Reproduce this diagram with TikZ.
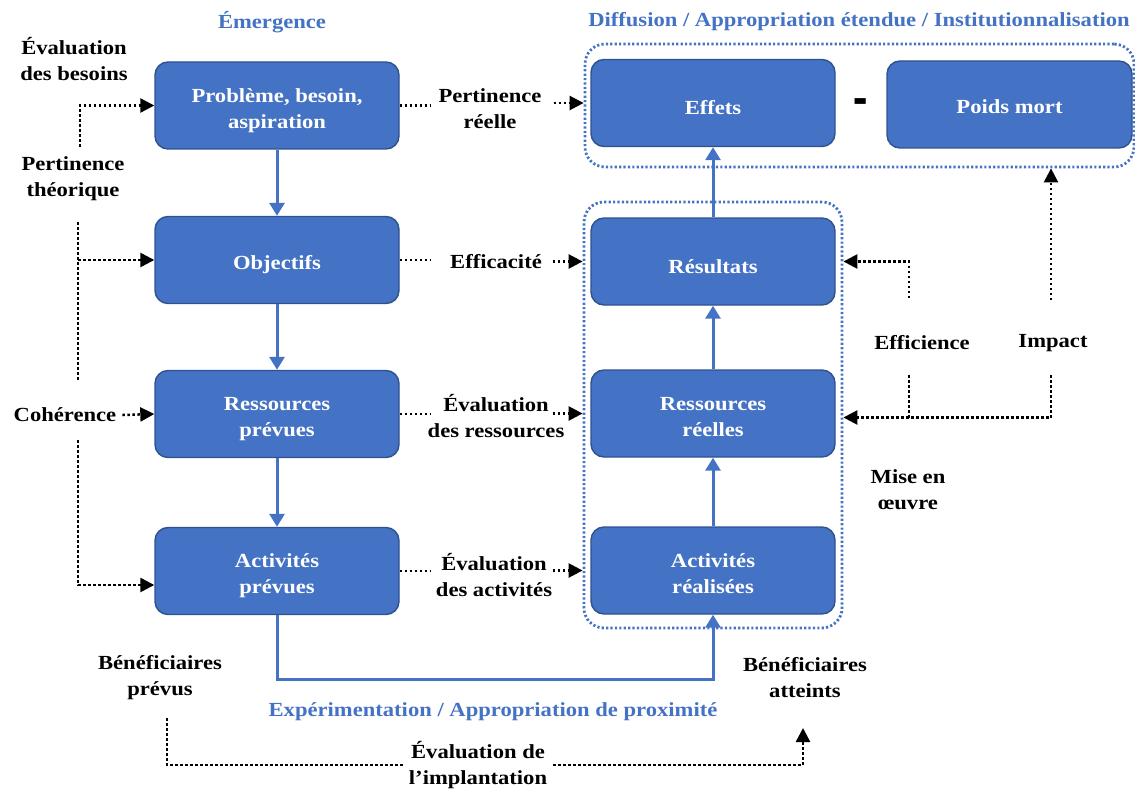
\documentclass[tikz,border=0pt]{standalone}
\usepackage{fontspec}
\setmainfont{Liberation Serif}[FakeStretch=1.13]
\usetikzlibrary{arrows.meta,calc}
\definecolor{boxblue}{HTML}{4472C4}
\definecolor{boxedge}{HTML}{2F528F}
\definecolor{headblue}{HTML}{4472C4}
% two centred lines, the first one given a taller strut so the pair sits a bit low
\newcommand\twolines[2]{\begin{tabular}{@{}c@{}}\rule{0pt}{27pt}#1\\#2\end{tabular}}
\begin{document}
\begin{tikzpicture}[x=1pt,y=-1pt,
  every node/.style={font=\fontsize{20}{26}\selectfont\bfseries, inner sep=0pt},
  stage/.style={rectangle, rounded corners=13pt, fill=boxblue, draw=boxedge,
    line width=1.4pt, text=white, minimum width=244pt, minimum height=87pt, align=center},
  single/.style={stage, execute at begin node={\rule{0pt}{#1}}},
  single/.default=24pt,
  group/.style={rectangle, rounded corners=20pt, draw=boxblue, line width=2.8pt,
    dash pattern=on 2.2pt off 2.2pt},
  lbl/.style={align=center, text=black, inner xsep=6pt},
  heading/.style={text=headblue},
  flow/.style={draw=boxblue, line width=3pt, -{Triangle[length=13pt,width=15pt]}},
  dotline/.style={draw=black, line width=2.5pt, dash pattern=on 2.5pt off 2.5pt},
  dotarrow/.style={dotline, -{Triangle[length=14pt,width=14pt]}},
]
\useasboundingbox (0,0) rectangle (1135,789);

% dotted phase groups
\node[group, minimum width=549pt, minimum height=123pt] (gtop) at (859.5,105.5) {};
\node[group, minimum width=258pt, minimum height=426pt] (gmid) at (713,415) {};

% planned chain
\node[stage]  (need) at (277,105.5) {\twolines{Problème, besoin,}{aspiration}};
\node[single] (obj)  at (277,260)   {Objectifs};
\node[stage]  (resp) at (277,414)   {\twolines{Ressources}{prévues}};
\node[stage]  (actp) at (277,571)   {\twolines{Activités}{prévues}};

% realised chain
\node[single] (eff)  at (713,103)   {Effets};
\node[single] (res)  at (713,261.5) {Résultats};
\node[stage]  (resr) at (713,413.5) {\twolines{Ressources}{réelles}};
\node[stage]  (actr) at (713,570.5) {\twolines{Activités}{réalisées}};
\node[single=18pt, minimum width=245pt] (dead) at (1009.5,104.5) {Poids mort};
\node[font=\fontsize{40}{40}\selectfont\bfseries] (minus) at (861,108) {\scalebox{0.95}[1.7]{-}};

% flows
\draw[flow] (need) -- (obj);
\draw[flow] (obj) -- (resp);
\draw[flow] (resp) -- (actp);
\draw[flow] (actp.south) -- ++(0,64) -| (actr.south);
\draw[flow] (actr) -- (resr);
\draw[flow] (resr) -- (res);
\draw[flow] (res) -- (eff);

% headings
\node[heading] (hEm)   at (272,22)  {Émergence};
\node[heading] (hDiff) at (859,22)  {Diffusion / Appropriation étendue / Institutionnalisation};
\node[heading] (hExp)  at (493,712) {Expérimentation / Appropriation de proximité};

% left criteria
\node[lbl] (lBes) at (74,59)  {Évaluation\\des besoins};
\node[lbl] (lPth) at (73,179) {Pertinence\\théorique};
\node[lbl] (lCoh) at (65,415) {Cohérence};

\coordinate (besFoot) at (80,147);
\draw[dotarrow] (besFoot) |- (need.west);
\coordinate (pthTop) at (78,222);
\coordinate (pthFoot) at (78,380);
\draw[dotline] (pthTop) -- (pthFoot);
\draw[dotarrow] (pthTop |- obj.west) -- (obj.west);
\draw[dotarrow] (lCoh.east) -- (resp.west);
\coordinate (cohFoot) at (78,440);
\draw[dotarrow] (cohFoot) |- ([yshift=-14pt]actp.west);

% middle criteria
\node[lbl] (lPr) at (490,109) {Pertinence\\réelle};
\node[lbl] (lEff) at (496,262) {Efficacité};
\node[lbl] (lEr) at (496,416) {Évaluation\\des ressources};
\node[lbl] (lEa) at (494,575) {Évaluation\\des activités};

\draw[dotline] (need.east) -- ++(31,0);
\draw[dotarrow] ($(gtop.west |- eff.west)+(-30,0)$) -- (gtop.west |- eff.west);
\draw[dotline] (obj.east) -- ++(31,0);
\draw[dotarrow] ($(gmid.west |- res.west)+(-30,0)$) -- (gmid.west |- res.west);
\draw[dotline] (resp.east) -- ++(31,0);
\draw[dotarrow] ($(gmid.west |- resr.west)+(-30,0)$) -- (gmid.west |- resr.west);
\draw[dotline] (actp.east) -- ++(31,0);
\draw[dotarrow] ($(gmid.west |- actr.west)+(-30,0)$) -- (gmid.west |- actr.west);

% right criteria
\node[lbl] (lEffi) at (922,343)  {Efficience};
\node[lbl] (lImp)  at (1053,343) {Impact};
\node[lbl] (lMise) at (908,490)  {Mise en\\œuvre};

\coordinate (effiTop) at (909,298);
\draw[dotarrow] (effiTop) |- (gmid.east |- res.east);
\coordinate (impTop) at (1051,300);
\draw[dotarrow] (impTop) -- (impTop |- gtop.south);
\coordinate (effiFoot) at (909,375);
\coordinate (impFoot) at (1051,375);
\draw[dotline] (effiFoot) -- ($(effiFoot |- resr.east)+(0,4)$);
\draw[dotarrow] (impFoot) |- ($(gmid.east |- resr.east)+(0,4)$);

% beneficiaries
\node[lbl] (lBp)   at (160,678) {Bénéficiaires\\prévus};
\node[lbl] (lBa)   at (805,678) {Bénéficiaires\\atteints};
\node[lbl] (lImpl) at (478,765) {Évaluation de\\l’implantation};
\coordinate (bpFoot) at (167,718);
\coordinate (baTip) at (803,728);
\draw[dotline] (bpFoot) |- (lImpl.west);
\draw[dotarrow] (lImpl.east) -| (baTip);
\end{tikzpicture}
\end{document}
